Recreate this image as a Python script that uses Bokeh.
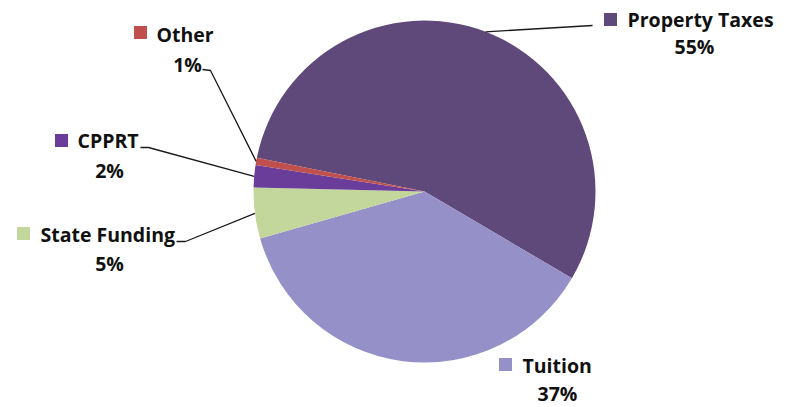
import numpy as np
from bokeh.plotting import figure
from bokeh.models import Range1d
from bokeh.core.properties import value
from bokeh.embed import file_html
from bokeh.resources import INLINE

# ---- data ----
categories = ["Property Taxes", "Tuition", "State Funding", "CPPRT", "Other"]
shares = [55.3, 37.1, 4.8, 2.1, 0.7]
pct_labels = [f"{round(v)}%" for v in shares]
colors = ["#5F497A", "#9590C8", "#C3D69B", "#6A3D9A", "#C0504D"]

# ---- layout (image pixel coordinates, y downward) ----
W, H = 788, 407
CX, CY, R = 424, 191, 171
START_DEG = 168.6
# legend square centre, name left x, name centre y, percent centre x, percent centre y
sq_pos = [(610, 19), (505, 364), (23, 233), (61, 140), (140, 32)]
name_pos = [(627, 19), (522, 365), (40, 234), (77, 140), (156, 34)]
pct_pos = [(694, 46), (557, 393), (109, 263), (109, 170), (187, 64)]
# leader elbow points (start, elbow) or None
leaders = [[(592, 25), (592, 25)], None, [(176, 241), (185, 241)],
           [(140, 147), (148, 147)], [(202, 69), (210, 70)]]


def Y(y):
    return H - y


p = figure(width=W, height=H, output_backend="svg", toolbar_location=None,
           x_range=Range1d(0, W), y_range=Range1d(0, H),
           min_border=0, outline_line_color=None)
p.axis.visible = False
p.grid.visible = False
p.background_fill_color = "white"
p.border_fill_color = "white"

vals = np.array(shares, dtype=float)
fr = vals / vals.sum()
cum = np.concatenate([[0], np.cumsum(fr)])
start = np.radians(START_DEG) - 2 * np.pi * cum[:-1]
end = np.radians(START_DEG) - 2 * np.pi * cum[1:]
mid = (start + end) / 2

p.wedge(x=CX, y=Y(CY), radius=R, start_angle=list(start), end_angle=list(end),
        direction="clock", fill_color=colors, line_color=None)

# leader lines
xs, ys = [], []
for i, ld in enumerate(leaders):
    if ld is None:
        continue
    ex = CX + R * np.cos(mid[i])
    ey = Y(CY) + R * np.sin(mid[i])
    xs.append([ld[0][0], ld[1][0], ex])
    ys.append([Y(ld[0][1]), Y(ld[1][1]), ey])
p.multi_line(xs=xs, ys=ys, line_color="#1a1a1a", line_width=1.3)

# legend squares
p.scatter(x=[s[0] for s in sq_pos], y=[Y(s[1]) for s in sq_pos], marker="square",
          size=13, fill_color=colors, line_color=None)

font = value("Open Sans")
p.text(x=[n[0] for n in name_pos], y=[Y(n[1]) for n in name_pos], text=categories,
       text_font=font, text_font_style="bold", text_font_size="19.5px",
       text_color="#111111", text_align="left", text_baseline="middle")
p.text(x=[n[0] for n in pct_pos], y=[Y(n[1]) for n in pct_pos], text=pct_labels,
       text_font=font, text_font_style="bold", text_font_size="19.5px",
       text_color="#111111", text_align="center", text_baseline="middle")

open("out.html", "w").write(file_html(p, INLINE))
